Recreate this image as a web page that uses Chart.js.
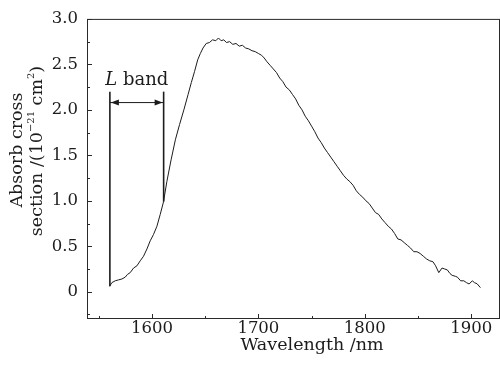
<!DOCTYPE html>
<html>
<head>
<meta charset="utf-8">
<script src="https://cdn.jsdelivr.net/npm/chart.js@4.4.1/dist/chart.umd.min.js"></script>
<style>
  html, body { margin: 0; padding: 0; background: #fff; }
  #wrap { width: 500px; height: 372px; position: relative; }
</style>
</head>
<body>
<div id="wrap"><canvas id="absChart"></canvas></div>
<script>
const wavelengths = [
  1560.2, 1562.4, 1565.5, 1568.6, 1571.8, 1574.9, 1577, 1579.6, 1582.7, 1585.9,
  1589, 1592.1, 1595.3, 1598.4, 1601.5, 1604.7, 1607.8, 1610.9, 1614, 1618,
  1622, 1626, 1630, 1634, 1637, 1640, 1643, 1645.5, 1648, 1651,
  1654, 1657, 1660, 1662.5, 1665, 1667.5, 1670, 1673, 1676, 1679,
  1682, 1685, 1688, 1691, 1694, 1697, 1700, 1703, 1705.5, 1708,
  1711, 1714, 1717, 1720, 1723, 1726, 1729, 1732, 1735, 1738,
  1741, 1744, 1747, 1750, 1753, 1756, 1759, 1762, 1765, 1768,
  1771, 1774, 1777, 1780, 1783, 1786, 1789, 1792, 1795, 1798,
  1801, 1804, 1807, 1810, 1813, 1816, 1819, 1822, 1825, 1828,
  1831, 1834, 1837, 1840, 1843, 1846, 1849, 1852, 1855, 1858,
  1861, 1864, 1866.5, 1869.5, 1872.5, 1875, 1877.5, 1880, 1882, 1885,
  1887, 1890, 1893, 1895.5, 1898, 1901, 1903, 1905.5, 1908.6
];
const crossSections = [
  0.06, 0.10, 0.12, 0.13, 0.14, 0.16, 0.19, 0.21, 0.26, 0.285,
  0.34, 0.39, 0.47, 0.56, 0.63, 0.72, 0.85, 0.99, 1.21, 1.45,
  1.67, 1.84, 2.00, 2.17, 2.30, 2.42, 2.55, 2.62, 2.68, 2.73,
  2.74, 2.77, 2.76, 2.79, 2.76, 2.77, 2.74, 2.75, 2.72, 2.73,
  2.70, 2.71, 2.68, 2.67, 2.65, 2.64, 2.62, 2.60, 2.57, 2.53,
  2.49, 2.45, 2.41, 2.35, 2.31, 2.25, 2.22, 2.17, 2.12, 2.05,
  2.00, 1.93, 1.88, 1.82, 1.76, 1.69, 1.64, 1.58, 1.53, 1.48,
  1.43, 1.38, 1.33, 1.28, 1.24, 1.21, 1.17, 1.11, 1.07, 1.04,
  1.00, 0.97, 0.92, 0.87, 0.85, 0.80, 0.76, 0.72, 0.69, 0.64,
  0.58, 0.57, 0.54, 0.51, 0.48, 0.44, 0.44, 0.42, 0.39, 0.36,
  0.34, 0.33, 0.285, 0.21, 0.26, 0.25, 0.24, 0.20, 0.18, 0.17,
  0.16, 0.12, 0.12, 0.10, 0.085, 0.12, 0.10, 0.087, 0.045
];
const xTickValues = [1600, 1700, 1800, 1900];
const xTickLabels = ["1600", "1700", "1800", "1900"];
const xMinorTicks = [1550, 1650, 1750, 1850];
const yTickValues = [0, 0.5, 1.0, 1.5, 2.0, 2.5, 3.0];
const yTickLabels = ["0", "0.5", "1.0", "1.5", "2.0", "2.5", "3.0"];
const yMinorTicks = [-0.25, 0.25, 0.75, 1.25, 1.75, 2.25, 2.75];
const bandEdges = [1560.5, 1611];
const bandBottoms = [0.06, 0.99];
const bandTop = 2.2;
const arrowLevel = 2.08;

const serif = "'DejaVu Serif', serif";
const ink = "#1c1c1c";

function drawRuns(ctx, runs, cx, cy) {
  // runs: [text, size, raise]
  let total = 0;
  for (const r of runs) {
    ctx.font = r[1] + "px " + serif;
    total += ctx.measureText(r[0]).width;
  }
  let pos = cx - total / 2;
  ctx.textAlign = "left";
  for (const r of runs) {
    ctx.font = r[1] + "px " + serif;
    ctx.fillText(r[0], pos, cy - r[2]);
    pos += ctx.measureText(r[0]).width;
  }
}

const decorPlugin = {
  id: "decor",
  afterDatasetsDraw(chart) {
    const { ctx, chartArea: a, scales: { x, y } } = chart;
    ctx.save();
    ctx.strokeStyle = "#2a2a2a";
    ctx.lineWidth = 1;
    ctx.strokeRect(a.left + 0.5, a.top + 0.5, a.right - a.left - 1, a.bottom - a.top - 1);

    ctx.beginPath();
    for (const v of xTickValues.concat(xMinorTicks)) {
      const len = xTickValues.includes(v) ? 5 : 3;
      const px = Math.round(x.getPixelForValue(v)) + 0.5;
      ctx.moveTo(px, a.bottom);
      ctx.lineTo(px, a.bottom - len);
    }
    for (const v of yTickValues.concat(yMinorTicks)) {
      const len = yTickValues.includes(v) ? 5 : 3;
      const py = Math.round(y.getPixelForValue(v)) + 0.5;
      ctx.moveTo(a.left, py);
      ctx.lineTo(a.left + len, py);
    }
    ctx.stroke();

    // arrow heads of the L band marker
    const ay = y.getPixelForValue(arrowLevel);
    const lx = x.getPixelForValue(bandEdges[0]);
    const rx = x.getPixelForValue(bandEdges[1]);
    ctx.fillStyle = ink;
    ctx.beginPath();
    ctx.moveTo(lx + 1, ay);
    ctx.lineTo(lx + 9, ay - 3);
    ctx.lineTo(lx + 9, ay + 3);
    ctx.closePath();
    ctx.moveTo(rx - 1, ay);
    ctx.lineTo(rx - 9, ay - 3);
    ctx.lineTo(rx - 9, ay + 3);
    ctx.closePath();
    ctx.fill();

    ctx.textBaseline = "alphabetic";
    const ty = y.getPixelForValue(bandTop) - 7;
    const mid = (lx + rx) / 2;
    ctx.font = "italic 18px " + serif;
    const wL = ctx.measureText("L").width;
    ctx.font = "18px " + serif;
    const wB = ctx.measureText(" band").width;
    const start = mid - (wL + wB) / 2;
    ctx.textAlign = "left";
    ctx.font = "italic 18px " + serif;
    ctx.fillText("L", start, ty);
    ctx.font = "18px " + serif;
    ctx.fillText(" band", start + wL, ty);

    // axis titles
    ctx.textBaseline = "middle";
    ctx.textAlign = "center";
    ctx.font = "17.5px " + serif;
    ctx.fillText("Wavelength /nm", 312, 345);

    ctx.save();
    ctx.translate(17, 150);
    ctx.rotate(-Math.PI / 2);
    ctx.textAlign = "center";
    ctx.font = "17.5px " + serif;
    ctx.fillText("Absorb cross", 0, 0);
    ctx.restore();

    ctx.save();
    ctx.translate(37, 151);
    ctx.rotate(-Math.PI / 2);
    drawRuns(ctx, [
      ["section /(10", 17.5, 0],
      ["\u221221", 10, 6],
      [" cm", 17.5, 0],
      ["2", 10, 6],
      [")", 17.5, 0]
    ], 0, 0);
    ctx.restore();

    ctx.restore();
  }
};

const curve = wavelengths.map((w, i) => ({ x: w, y: crossSections[i] }));

new Chart(document.getElementById("absChart"), {
  type: "line",
  data: {
    datasets: [
      { data: curve, borderColor: ink, borderWidth: 1, pointRadius: 0, tension: 0 },
      { data: [{ x: bandEdges[0], y: bandBottoms[0] }, { x: bandEdges[0], y: bandTop }], borderColor: ink, borderWidth: 1.6, pointRadius: 0 },
      { data: [{ x: bandEdges[1], y: bandBottoms[1] }, { x: bandEdges[1], y: bandTop }], borderColor: ink, borderWidth: 1.6, pointRadius: 0 },
      { data: [{ x: bandEdges[0], y: arrowLevel }, { x: bandEdges[1], y: arrowLevel }], borderColor: ink, borderWidth: 1, pointRadius: 0 }
    ]
  },
  options: {
    responsive: true,
    maintainAspectRatio: false,
    animation: false,
    layout: { padding: { top: 15, right: 0, left: 0, bottom: 0 } },
    plugins: { legend: { display: false }, tooltip: { enabled: false } },
    scales: {
      x: {
        type: "linear",
        min: 1539,
        max: 1927,
        grid: { display: false, drawTicks: false },
        border: { display: false },
        afterBuildTicks: s => { s.ticks = xTickValues.map(v => ({ value: v })); },
        afterFit: s => { s.height = 53; },
        ticks: {
          padding: 0,
          color: ink,
          font: { family: serif, size: 16.5 },
          maxRotation: 0,
          callback: (v) => xTickLabels[xTickValues.indexOf(v)]
        }
      },
      y: {
        min: -0.3,
        max: 3.0,
        grid: { display: false, drawTicks: false },
        border: { display: false },
        afterBuildTicks: s => { s.ticks = yTickValues.map(v => ({ value: v })); },
        afterFit: s => { s.width = 87; },
        ticks: {
          padding: 9,
          color: ink,
          font: { family: serif, size: 16.5 },
          callback: (v) => yTickLabels[yTickValues.indexOf(v)]
        }
      }
    }
  },
  plugins: [decorPlugin]
});
</script>
</body>
</html>
